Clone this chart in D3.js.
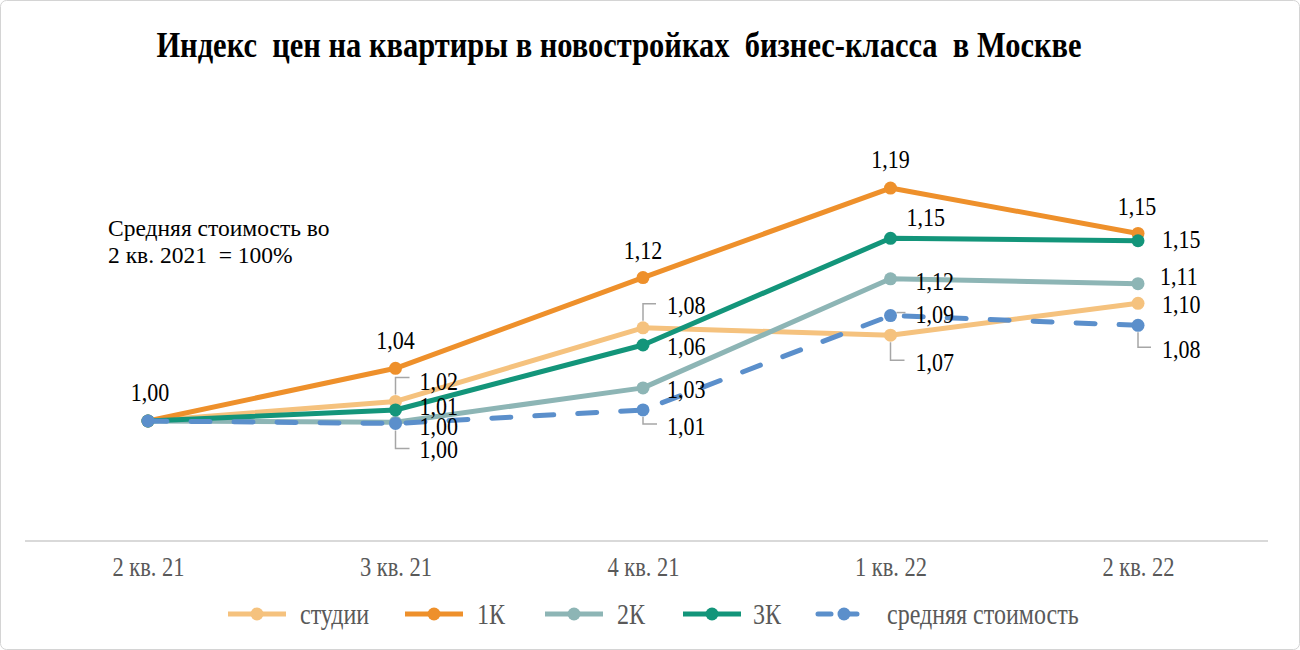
<!DOCTYPE html>
<html><head><meta charset="utf-8">
<script src="https://cdn.jsdelivr.net/npm/d3@7/dist/d3.min.js"></script>
<style>
html,body{margin:0;padding:0;background:#fff;}
svg{display:block;font-family:"Liberation Serif","Times New Roman",serif;}
</style></head>
<body>
<svg id="chart" width="1300" height="650"></svg>
<script>
// ---- data ----
const categories = ["2 кв. 21", "3 кв. 21", "4 кв. 21", "1 кв. 22", "2 кв. 22"];
const studios   = [1.000, 1.016, 1.076, 1.070, 1.096];
const oneRoom   = [1.000, 1.043, 1.117, 1.190, 1.153];
const twoRoom   = [1.000, 0.999, 1.027, 1.116, 1.112];
const threeRoom = [1.000, 1.009, 1.062, 1.149, 1.147];
const average   = [1.000, 0.998, 1.009, 1.086, 1.078];
const seriesNames = ["студии", "1К", "2К", "3К", "средняя стоимость"];
const titleText = "Индекс  цен на квартиры в новостройках  бизнес-класса  в Москве";
const noteLines = ["Средняя стоимость во", "2 кв. 2021  = 100%"];

// ---- layout / style ----
const colors = ["#F5C27E", "#EE902B", "#8DB5B5", "#13957A", "#5B8FCB"];
const seriesValues = [studios, oneRoom, twoRoom, threeRoom, average];
const SY = 1.2; // vertical glyph stretch seen in the reference

const labelLayout = [
  [null, {dx:24,dy:-20,a:"start",l:"up",lv:-24,lh:14}, {dx:24,dy:-22,a:"start",l:"up",lv:-24,lh:13}, {dx:25,dy:27,a:"start",l:"down",lv:25,lh:14}, {dx:24,dy:1,a:"start"}],
  [{dx:2,dy:-28,a:"middle"}, {dx:0,dy:-28,a:"middle"}, {dx:0,dy:-27,a:"middle"}, {dx:0,dy:-28,a:"middle"}, {dx:-1,dy:-27,a:"middle"}],
  [null, {dx:24,dy:4,a:"start"}, {dx:24,dy:2,a:"start"}, {dx:25,dy:3,a:"start"}, {dx:22,dy:-7,a:"start"}],
  [null, {dx:24,dy:-3,a:"start"}, {dx:24,dy:2,a:"start"}, {dx:16,dy:-21,a:"start"}, {dx:24,dy:-1,a:"start"}],
  [null, {dx:24,dy:26,a:"start",l:"down",lv:25,lh:14}, {dx:24,dy:17,a:"start",l:"down",lv:14,lh:14}, {dx:25,dy:-1,a:"start",l:"side"}, {dx:24,dy:24,a:"start",l:"down",lv:22,lh:13}]
];

const svg = d3.select("#chart");

function addText(parent, x, y, txt, size, opts={}) {
  const sy = opts.sy || SY;
  const g = parent.append("g").attr("transform", `translate(${x},${y}) scale(1,${sy})`);
  const t = g.append("text").attr("x",0).attr("y",0)
    .attr("text-anchor", opts.anchor || "start")
    .attr("dominant-baseline","central")
    .attr("font-size", size)
    .attr("fill", opts.fill || "#000")
    .style("white-space","pre")
    .text(txt);
  if (opts.bold) t.attr("font-weight","bold");
  return t;
}

// border
svg.append("rect").attr("x",0.5).attr("y",0.5).attr("width",1299).attr("height",649)
  .attr("rx",6).attr("fill","#fff").attr("stroke","#d4d4d4").attr("stroke-width",1);

const x = d3.scalePoint().domain(categories).range([148, 1138]);
const y = d3.scaleLinear().domain([0.9, 1.2]).range([543.6, 175.8]);

// title
addText(svg, 619, 45, titleText, 30.5, {anchor:"middle", bold:true});

// note
noteLines.forEach((t,i)=> addText(svg, 108, 228+i*27, t, 23.5, {sy:1.0}));

// x axis
const xAxis = d3.axisBottom(x).tickSize(0).tickPadding(0);
const gx = svg.append("g").attr("transform","translate(0,541)").call(xAxis);
gx.select(".domain").remove();
gx.append("line").attr("x1",25).attr("x2",1268).attr("y1",0).attr("y2",0)
  .attr("stroke","#d9d9d9").attr("stroke-width",2);
gx.selectAll(".tick text").attr("y",0).attr("dy",null)
  .attr("dominant-baseline","central")
  .attr("transform",`translate(0,26) scale(1,${SY})`)
  .attr("font-family","Liberation Serif, serif").attr("font-size",22.5).attr("fill","#595959");

// lines
const line = d3.line().x((d,i)=>x(categories[i])).y(d=>y(d));
seriesValues.forEach((vals,s)=>{
  const g = svg.append("g");
  const path = g.append("path").datum(vals).attr("d",line).attr("fill","none")
    .attr("stroke",colors[s]).attr("stroke-width",5).attr("stroke-linejoin","round");
  if (s===4) path.attr("stroke-dasharray","19,24").attr("stroke-linecap","round");
  g.selectAll("circle").data(vals).join("circle")
    .attr("cx",(d,i)=>x(categories[i])).attr("cy",d=>y(d)).attr("r",6.5).attr("fill",colors[s]);
});

// labels
const fmt = v => d3.format(".2f")(v).replace(".", ",");
seriesValues.forEach((vals,s)=>{
  vals.forEach((v,i)=>{
    const L = labelLayout[s][i];
    if (!L) return;
    const px = x(categories[i]), py = y(v);
    if (L.l==="up" || L.l==="down") {
      const sgn = L.l==="up" ? -1 : 1;
      svg.append("path").attr("d",`M${px},${py+sgn*7}V${py+L.lv}H${px+L.lh}`)
        .attr("fill","none").attr("stroke","#a6a6a6").attr("stroke-width",1.5);
    } else if (L.l==="side") {
      svg.append("path").attr("d",`M${px+6},${py-3}H${px+15}`)
        .attr("fill","none").attr("stroke","#a6a6a6").attr("stroke-width",1.5);
    }
    addText(svg, px+L.dx, py+L.dy, fmt(v), 22, {anchor:L.a, sy:1.1});
  });
});

// legend
const legendItems = [
  {x1:228, tx:300}, {x1:405, tx:477}, {x1:545, tx:617}, {x1:683, tx:753}, {x1:815, tx:887}
];
const ly = 614;
legendItems.forEach((it,s)=>{
  const g = svg.append("g");
  const ln = g.append("line").attr("x1",it.x1).attr("x2",it.x1+58).attr("y1",ly).attr("y2",ly)
    .attr("stroke",colors[s]).attr("stroke-width",5);
  if (s===4) ln.attr("x1",it.x1+3).attr("x2",it.x1+55).attr("stroke-dasharray","13,13").attr("stroke-linecap","round");
  g.append("circle").attr("cx",it.x1+29).attr("cy",ly).attr("r",6.5).attr("fill",colors[s]);
  addText(g, it.tx, ly, seriesNames[s], 24, {fill:"#595959"});
});
</script>
</body></html>
